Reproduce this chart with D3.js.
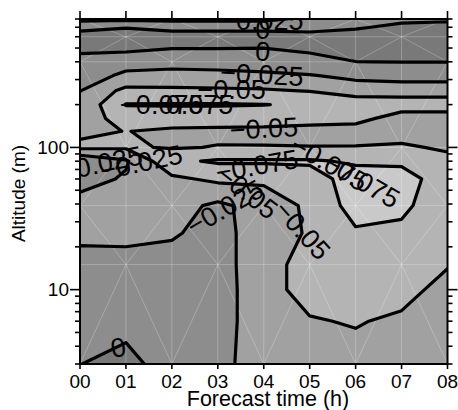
<!DOCTYPE html>
<html>
<head>
<meta charset="utf-8">
<script src="https://cdn.jsdelivr.net/npm/d3@7"></script>
<style>
  html, body { margin: 0; padding: 0; background: #fff; }
  svg { display: block; font-family: "Liberation Sans", Arial, Helvetica, sans-serif; }
</style>
</head>
<body>
<svg id="chart" width="458" height="410"></svg>
<script>
// ---- data -------------------------------------------------------------
const hours = [0, 1, 2, 3, 4, 5, 6, 7, 8];
const hourLabels = ["00", "01", "02", "03", "04", "05", "06", "07", "08"];
// model levels (m), bottom to top
const altitudes = [3, 6, 10, 15, 25, 39, 60, 80, 100, 130, 160, 200, 250, 320, 400, 500, 600, 700, 800];
// anomaly field: one row per altitude (same order), one column per forecast hour
const anomaly = [
  [-0.0005, 0.010, -0.015, -0.015, -0.042, -0.045, -0.040, -0.040, -0.035], //   3 m
  [-0.008, -0.010, -0.015, -0.014, -0.040, -0.048, -0.052, -0.045, -0.035],  //   6 m
  [-0.012, -0.012, -0.015, -0.014, -0.040, -0.060, -0.060, -0.060, -0.040],  //  10 m
  [-0.010, -0.012, -0.015, -0.015, -0.040, -0.060, -0.065, -0.065, -0.052],  //  15 m
  [-0.035, -0.035, -0.028, -0.015, -0.040, -0.052, -0.072, -0.070, -0.058],  //  25 m
  [-0.035, -0.035, -0.035, -0.020, -0.035, -0.055, -0.085, -0.080, -0.060],  //  39 m
  [-0.015, -0.028, -0.045, -0.055, -0.055, -0.065, -0.085, -0.082, -0.066],  //  60 m
  [-0.002, -0.022, -0.070, -0.078, -0.078, -0.078, -0.072, -0.072, -0.060],  //  80 m
  [-0.055, -0.053, -0.048, -0.051, -0.051, -0.051, -0.052, -0.055, -0.045],  // 100 m
  [-0.045, -0.0505, -0.046, -0.045, -0.044, -0.039, -0.030, -0.035, -0.035], // 130 m
  [-0.035, -0.062, -0.062, -0.062, -0.062, -0.062, -0.065, -0.030, -0.030],  // 160 m
  [-0.030, -0.076, -0.0765, -0.0765, -0.0755, -0.072, -0.072, -0.072, -0.072], // 200 m
  [-0.0245, -0.0574, -0.0558, -0.0549, -0.0532, -0.049, -0.034, -0.032, -0.032], // 250 m
  [-0.018, -0.0277, -0.0296, -0.0284, -0.0268, -0.026, -0.021, -0.020, -0.020],  // 320 m
  [-0.012, -0.0196, -0.020, -0.020, -0.020, -0.0107, -0.0003, 0.0005, 0.0005],   // 400 m
  [0.008, 0.008, 0.001, 0.001, 0.0002, 0.006, 0.015, 0.015, 0.015],  // 500 m
  [0.015, 0.011, 0.015, 0.015, 0.015, 0.010, 0.021, 0.020, 0.020],   // 600 m
  [-0.010, -0.001, -0.010, -0.010, -0.010, -0.010, -0.005, 0.0104, 0.010], // 700 m
  [-0.030, -0.030, -0.030, -0.030, -0.030, -0.020, -0.020, -0.010, -0.005] // 800 m
];
const levels = [-0.075, -0.05, -0.025, 0];
const bandColors = ["#c9c9c9", "#b4b4b4", "#a1a1a1", "#8d8d8d", "#797979"]; // below first level .. above last
// contour labels: level, forecast hour and altitude of the label centre, text angle (deg)
const labelLevels = [-0.025, 0, 0, -0.025, -0.05, -0.075, -0.075, -0.05, -0.075, -0.075, -0.075, -0.05, -0.025, -0.05, -0.025, -0.025, 0];
const labelHours  = [3.96, 3.98, 3.98, 3.96, 3.30, 1.78, 2.43, 4.00, 3.85, 5.43, 6.13, 3.65, 3.15, 4.85, 0.46, 1.33, 0.83];
const labelAlts   = [787, 680, 476, 328, 258, 202, 202, 137, 75, 77.7, 59, 48.6, 38.1, 26.3, 77.7, 79, 3.95];
const labelAngles = [0, 0, 5, 3, 0, 0, 0, -3, -10, 30, 30, 38, -30, 48, -12, -12, -10];
const majorAlts = [10, 100];
const minorAlts = [3, 4, 5, 6, 7, 8, 9, 20, 30, 40, 50, 60, 70, 80, 90, 200, 300, 400, 500, 600, 700, 800];
const meshAlts = [3, 15, 39, 100, 400, 600, 800];

// ---- layout -----------------------------------------------------------
const pL = 80, pR = 447.5, pT = 19, pB = 364;
const svg = d3.select("#chart");
const x = d3.scaleLinear().domain([0, 8]).range([pL, pR]);
const y = d3.scaleLog().domain([3, 800]).range([pB, pT]);

svg.append("defs").append("clipPath").attr("id", "plotClip")
  .append("rect").attr("x", pL).attr("y", pT).attr("width", pR - pL).attr("height", pB - pT);

const plot = svg.append("g").attr("clip-path", "url(#plotClip)");

// ---- contours -----------------------------------------------------------
const nx = hours.length, ny = altitudes.length;
const rowPx = altitudes.map(a => y(a));
function rowToPx(k) {
  let k0 = Math.floor(k);
  k0 = Math.max(0, Math.min(ny - 2, k0));
  return rowPx[k0] + (rowPx[k0 + 1] - rowPx[k0]) * (k - k0);
}
function colToPx(c) {
  let c0 = Math.floor(c);
  c0 = Math.max(0, Math.min(nx - 2, c0));
  return x(hours[c0] + (hours[c0 + 1] - hours[c0]) * (c - c0));
}
// d3.contours places sample i at grid coordinate i + 0.5
const gridProj = d3.geoTransform({
  point(gx, gy) { this.stream.point(colToPx(gx - 0.5), rowToPx(gy - 0.5)); }
});
const path = d3.geoPath(gridProj);
const contours = d3.contours().size([nx, ny]).thresholds(levels)(anomaly.flat());

plot.append("rect").attr("x", pL).attr("y", pT).attr("width", pR - pL).attr("height", pB - pT)
  .attr("fill", bandColors[0]);

plot.append("g").selectAll("path").data(contours).join("path")
  .attr("d", path)
  .attr("fill", (d, i) => bandColors[i + 1])
  .attr("fill-rule", "evenodd")
  .attr("stroke", "none");

// faint triangular mesh of the model grid
const mesh = plot.append("g").attr("stroke", "#ffffff").attr("stroke-opacity", 0.3).attr("stroke-width", 0.8).attr("fill", "none");
hours.forEach(h => mesh.append("line").attr("x1", x(h)).attr("x2", x(h)).attr("y1", pT).attr("y2", pB));
meshAlts.forEach(a => mesh.append("line").attr("x1", pL).attr("x2", pR).attr("y1", y(a)).attr("y2", y(a)));
for (let j = 0; j < meshAlts.length - 1; j++) {
  for (let i = 0; i < hours.length - 1; i++) {
    const up = (i + j) % 2 === 0;
    mesh.append("line")
      .attr("x1", x(hours[i])).attr("x2", x(hours[i + 1]))
      .attr("y1", y(up ? meshAlts[j] : meshAlts[j + 1]))
      .attr("y2", y(up ? meshAlts[j + 1] : meshAlts[j]));
  }
}

plot.append("g").selectAll("path").data(contours).join("path")
  .attr("d", path)
  .attr("fill", "none")
  .attr("stroke", "#000")
  .attr("stroke-width", 3.2)
  .attr("stroke-linejoin", "round");

// ---- contour labels ---------------------------------------------------------
const fmt = d3.format("");
plot.append("g").selectAll("text").data(labelLevels).join("text")
  .attr("transform", (d, i) => `translate(${x(labelHours[i])},${y(labelAlts[i])}) rotate(${labelAngles[i]})`)
  .attr("text-anchor", "middle")
  .attr("dy", "0.36em")
  .attr("font-size", 27)
  .attr("fill", "#000")
  .text(d => fmt(d));

// ---- axes -----------------------------------------------------------------
const axes = svg.append("g").attr("stroke", "#000").attr("stroke-width", 1.6);
hours.forEach(h => {
  axes.append("line").attr("x1", x(h)).attr("x2", x(h)).attr("y1", pB).attr("y2", pB + 5);
  axes.append("line").attr("x1", x(h)).attr("x2", x(h)).attr("y1", pT).attr("y2", pT - 8);
});
majorAlts.forEach(a => {
  axes.append("line").attr("x1", pL - 10).attr("x2", pL).attr("y1", y(a)).attr("y2", y(a));
  axes.append("line").attr("x1", pR).attr("x2", pR + 10).attr("y1", y(a)).attr("y2", y(a));
});
minorAlts.forEach(a => {
  axes.append("line").attr("x1", pL - 5).attr("x2", pL).attr("y1", y(a)).attr("y2", y(a));
  axes.append("line").attr("x1", pR).attr("x2", pR + 5).attr("y1", y(a)).attr("y2", y(a));
});
svg.append("rect").attr("x", pL).attr("y", pT).attr("width", pR - pL).attr("height", pB - pT)
  .attr("fill", "none").attr("stroke", "#000").attr("stroke-width", 2);

svg.append("g").selectAll("text").data(hours).join("text")
  .attr("x", d => x(d)).attr("y", 388)
  .attr("text-anchor", "middle").attr("font-size", 19)
  .text((d, i) => hourLabels[i]);
svg.append("g").selectAll("text").data(majorAlts).join("text")
  .attr("x", pL - 11).attr("y", d => y(d)).attr("dy", "0.36em")
  .attr("text-anchor", "end").attr("font-size", 19)
  .text(d => d);

svg.append("text").attr("x", 268).attr("y", 405.5).attr("text-anchor", "middle")
  .attr("font-size", 21.5).text("Forecast time (h)");
svg.append("text").attr("transform", "translate(25,193.5) rotate(-90)").attr("text-anchor", "middle")
  .attr("font-size", 19).text("Altitude (m)");
</script>
</body>
</html>
